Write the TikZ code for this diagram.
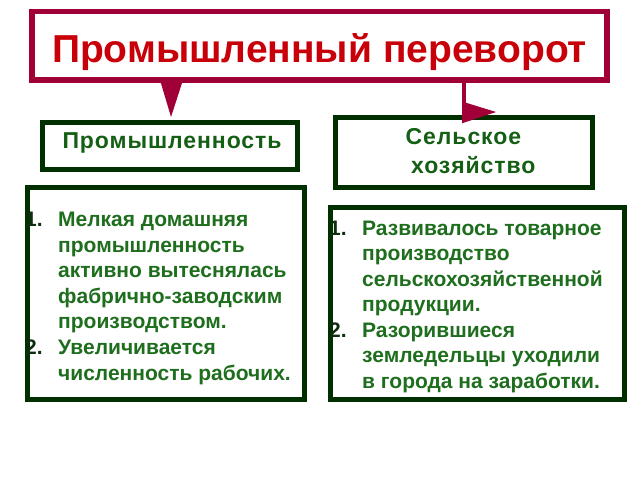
\documentclass[tikz,border=0pt]{standalone}
\usepackage{fontspec}
\setmainfont{Liberation Sans}
\usetikzlibrary{calc}
\definecolor{maroonc}{RGB}{160,0,55}
\definecolor{titlered}{RGB}{200,0,10}
\definecolor{dkgreen}{RGB}{0,48,0}
\definecolor{hdgreen}{RGB}{20,95,20}
\definecolor{lsgreen}{RGB}{30,110,30}
\definecolor{numc}{RGB}{15,45,15}
\begin{document}
\begin{tikzpicture}[x=1pt,y=-1pt,
  mbox/.style={draw=maroonc,line width=5.5pt,inner sep=0pt,outer sep=0pt},
  gbox/.style={draw=dkgreen,line width=5pt,inner sep=0pt,outer sep=0pt},
  titletxt/.style={inner sep=0pt,anchor=base,text=titlered,font=\fontsize{39}{44}\selectfont\bfseries},
  hdtxt/.style={inner sep=0pt,anchor=base,text=hdgreen,font=\fontsize{23}{27}\selectfont\bfseries\addfontfeature{LetterSpace=4}},
  listtxt/.style={inner sep=0pt,anchor=base west,text=lsgreen,font=\fontsize{21}{25}\selectfont\bfseries},
  numtxt/.style={inner sep=0pt,anchor=base west,text=numc,font=\fontsize{21}{25}\selectfont\bfseries}]
\useasboundingbox (0,0) rectangle (640,480);
\fill[white] (0,0) rectangle (640,480);
% boxes
\node[mbox,minimum width=575pt,minimum height=68.5pt] (title) at (319.5,45.75) {};
\node[gbox,minimum width=255pt,minimum height=47pt] (ind) at (170,146) {};
\node[gbox,minimum width=257pt,minimum height=70pt] (sel) at (464,152.5) {};
\node[gbox,minimum width=277pt,minimum height=212pt] (lista) at (166,293.5) {};
\node[gbox,minimum width=294pt,minimum height=192pt] (listb) at (477.5,303.5) {};
% texts
\node[titletxt] (tt) at (319.5,62) {Промышленный переворот};
\node[hdtxt] (it) at (172,148) {Промышленность};
\node[hdtxt,anchor=base west] (st1) at (405.5,144) {Сельское};
\node[hdtxt,anchor=base west] (st2) at (411,173) {хозяйство};
\foreach \t [count=\i] in {Мелкая домашняя,промышленность,активно вытеснялась,фабрично-заводским,производством.,Увеличивается,численность рабочих.}
  \node[listtxt] (la\i) at (58,{226.7+25.55*(\i-1)}) {\t};
\foreach \t [count=\i] in {Развивалось товарное,производство,сельскохозяйственной,продукции.,Разорившиеся,земледельцы уходили,в города на заработки.}
  \node[listtxt] (lb\i) at (362,{235+25.55*(\i-1)}) {\t};
\node[numtxt] (na1) at (25,226.7) {1.};
\node[numtxt] (na2) at (25,354.45) {2.};
\node[numtxt] (nb1) at (329,235) {1.};
\node[numtxt] (nb2) at (329,337.2) {2.};
% connectors
\coordinate (ca) at (title.south -| 171,0);
\fill[maroonc] ([xshift=-11pt]ca) -- ([xshift=12pt]ca) -- ([yshift=5.5pt]ca |- ind.north) -- cycle;
\coordinate (cb) at (title.south -| sel.north);
\coordinate (cbm) at ($(cb)+(0,32)$);
\draw[maroonc,line width=4pt] (cb) -- (cbm);
\fill[maroonc] ($(cbm)+(-2,-10.5)$) -- ($(cbm)+(-2,11.3)$) -- ($(cbm)+(32,0)$) -- cycle;
\end{tikzpicture}
\end{document}
